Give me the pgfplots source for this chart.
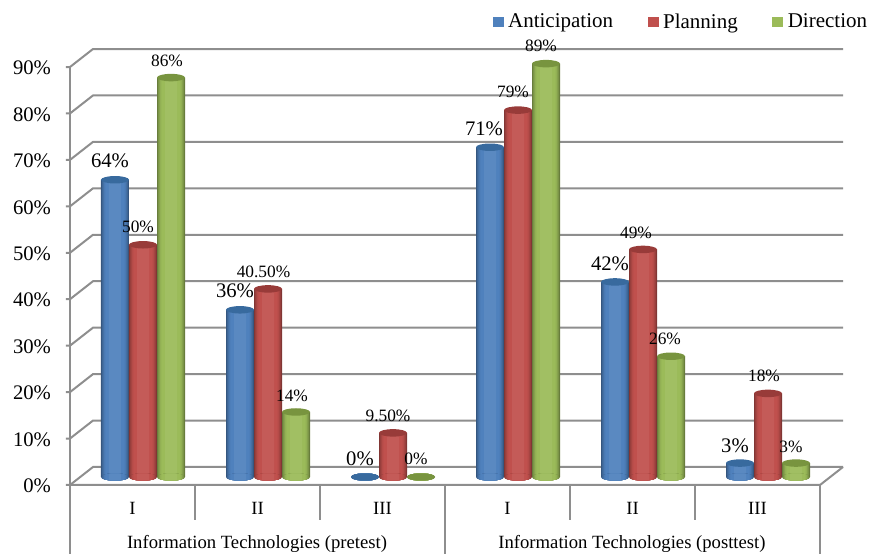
\documentclass[border=0pt]{standalone}
\usepackage{pgfplots}
\usepackage{pgfplotstable}
\usepackage{fontspec}
\setmainfont{Liberation Serif}
\pgfplotsset{compat=1.18}
\definecolor{gridc}{HTML}{8E8E8E}
\definecolor{bluem}{HTML}{4F81BD}\definecolor{redm}{HTML}{C0504D}\definecolor{greenm}{HTML}{9BBB59}
\definecolor{bluet}{HTML}{386A9E}\definecolor{redt}{HTML}{983B39}\definecolor{greent}{HTML}{78943F}
% top of a cylinder
\pgfdeclareplotmark{cap}{\pgfpathellipse{\pgfpointorigin}{\pgfqpoint{10.5pt}{0pt}}{\pgfqpoint{0pt}{2.8pt}}\pgfusepathqfill}
% slice of the cylinder's foot, half width = mark size
\pgfdeclareplotmark{foot}{\begin{pgfscope}%
  \pgfpathrectangle{\pgfpoint{-\pgfplotmarksize}{-4pt}}{\pgfpoint{2\pgfplotmarksize}{8pt}}\pgfusepath{clip}%
  \pgfpathellipse{\pgfpointorigin}{\pgfqpoint{10.5pt}{0pt}}{\pgfqpoint{0pt}{2.8pt}}\pgfusepathqfill
  \end{pgfscope}}
\pgfplotstableread{
x anticipation planning direction
1 64 50 86
2 36 40.5 14
3 0 9.5 0
4 71 79 89
5 42 49 26
6 3 18 3
}\datatable
\newcommand{\lab}[4][15.75]{\node[font=\fontsize{#1}{#1}\selectfont,inner sep=0pt] at (#2,553-#3) {#4};}
% one nested layer of a cylinder: column, colour, half width in pt, x shift
\newcommand{\layer}[4]{%
  \addplot[forget plot,only marks,mark=foot,mark size=#3,mark options={draw=none,fill=#2},xshift=#4,yshift=6pt] table[x=x,y expr=0*\thisrow{#1}] {\datatable};
  \addplot[forget plot,ybar,bar width=2*#3,bar shift=0pt,draw=none,fill=#2,xshift=#4,yshift=6pt] table[x=x,y=#1] {\datatable};
}
% whole cylinder: column, body colour, cap colour, x shift
\newcommand{\cyl}[4]{%
  \layer{#1}{#2!66!black}{10.5pt}{#4}
  \layer{#1}{#2!76!black}{9.9pt}{#4}
  \layer{#1}{#2!86!black}{9.2pt}{#4}
  \layer{#1}{#2!94!black}{8.4pt}{#4}
  \layer{#1}{#2}{7.2pt}{#4}
  \layer{#1}{#2!94!white}{4.5pt}{#4}
  \addplot[forget plot,only marks,mark=cap,mark options={draw=none,fill=#3},xshift=#4,yshift=6pt] table[x=x,y=#1] {\datatable};
}
\begin{document}
\begin{tikzpicture}[x=0.75pt,y=0.75pt]
\begin{axis}[
  name=main, anchor=south west, at={(52.5pt,51.75pt)},
  scale only axis, width=562.5pt, height=313.5pt,
  xmin=0.5, xmax=6.5, ymin=0, ymax=90, clip=false,
  axis line style={draw=none}, tick style={draw=none},
  xtick={1,...,6}, xticklabels={I,II,III,I,II,III},
  ytick={0,10,...,90},
  yticklabels={0\%,10\%,20\%,30\%,40\%,50\%,60\%,70\%,80\%,90\%},
  yticklabel style={font=\fontsize{15.5}{15.5}\selectfont,anchor=east,xshift=-10.75pt,yshift=-0.75pt},
  xticklabel style={font=\fontsize{14}{14}\selectfont,anchor=center,yshift=-17.5pt},
  legend style={draw=none,fill=none,at={(1.0667,1.1076)},anchor=east,legend columns=3,inner sep=0pt,
     font=\fontsize{15.75}{15.75}\selectfont,cells={anchor=west},
     /tikz/every even column/.append style={column sep=24pt}},
]
\pgfplotsextra{
  \begin{scope}[gridc,line width=1.5pt]
  \foreach \k in {0,10,...,90}{
    \draw (axis cs:0.5,\k) ++(-3pt,0pt) -- ++(3pt,0pt) -- ++(17.25pt,13.5pt) -- ++(562.5pt,0pt);
  }
  \draw (axis cs:0.5,0) -- (axis cs:0.5,90);
  \draw (axis cs:0.5,0) -- (axis cs:6.5,0) -- ++(17.25pt,13.5pt);
  \foreach \p/\d in {0/51.75,93.75/26.25,187.5/26.25,281.25/51.75,375/26.25,468.75/26.25,562.5/51.75}{
    \draw (axis cs:0.5,0) ++(\p pt,0pt) -- ++(0pt,-\d pt);
  }
  \end{scope}
}
\addlegendimage{legend image code/.code={\fill[bluem,draw=none] (0,-4pt) rectangle (8.2pt,4pt);\path[draw=none,fill=none] (0,0) rectangle (9.5pt,0.1pt);}}\addlegendentry{Anticipation}
\addlegendimage{legend image code/.code={\fill[redm,draw=none] (0,-4pt) rectangle (8.2pt,4pt);\path[draw=none,fill=none] (0,0) rectangle (9.5pt,0.1pt);}}\addlegendentry{Planning}
\addlegendimage{legend image code/.code={\fill[greenm,draw=none] (0,-4pt) rectangle (8.2pt,4pt);\path[draw=none,fill=none] (0,0) rectangle (9.5pt,0.1pt);}}\addlegendentry{Direction}
\cyl{anticipation}{bluem}{bluet}{-13.125pt}
\cyl{planning}{redm}{redt}{7.875pt}
\cyl{direction}{greenm}{greent}{28.875pt}
\end{axis}
\lab[15.5]{110}{160}{64\%}
\lab[13]{138}{226}{50\%}
\lab[13]{167}{60}{86\%}
\lab[15.5]{235}{290}{36\%}
\lab[13]{263.5}{271}{40.50\%}
\lab[13]{292}{395}{14\%}
\lab[15.5]{360}{458}{0\%}
\lab[13]{388}{415}{9.50\%}
\lab[13]{416}{458}{0\%}
\lab[15.5]{484}{128}{71\%}
\lab[13]{513}{91}{79\%}
\lab[13]{541}{45}{89\%}
\lab[15.5]{610}{263}{42\%}
\lab[13]{636}{232}{49\%}
\lab[13]{665}{338}{26\%}
\lab[15.5]{735}{445}{3\%}
\lab[13]{764}{375}{18\%}
\lab[13]{791}{446}{3\%}
\lab[14]{257}{542.5}{Information Technologies (pretest)}
\lab[14]{632}{542.5}{Information Technologies (posttest)}
\pgfresetboundingbox
\path[use as bounding box] (0,0) rectangle (869,554);
\end{tikzpicture}
\end{document}
